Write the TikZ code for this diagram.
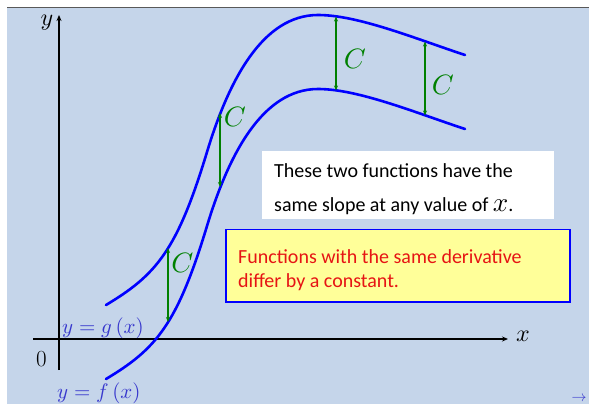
\documentclass[tikz,border=0pt]{standalone}
\usepackage{fontspec}
\newfontfamily\calibri{Carlito}
\DeclareFontShape{OML}{cmm}{m}{it}{<->cmmi10}{}
\DeclareFontShape{OMS}{cmsy}{m}{n}{<->cmsy10}{}
\DeclareFontShape{OT1}{cmr}{m}{n}{<->cmr10}{}
\usetikzlibrary{arrows.meta}
\definecolor{bgblue}{RGB}{197,213,234}
\definecolor{cgreen}{RGB}{0,128,0}
\definecolor{labblue}{RGB}{55,55,205}
\definecolor{boxyellow}{RGB}{255,255,153}
\definecolor{txtred}{RGB}{230,20,20}
\begin{document}
\begin{tikzpicture}[x=1pt,y=-1pt,
  curve/.style={blue, line width=2.6pt, line cap=round},
  axis/.style={black, line width=1.6pt, -{Stealth[length=6pt,width=5pt]}},
  cdiff/.style={cgreen, line width=1.5pt, {Stealth[length=5pt,width=4pt]}-{Stealth[length=5pt,width=4pt]}},
  clab/.style={cgreen, inner sep=0pt, font=\fontsize{28}{28}\selectfont},
  axlab/.style={inner sep=0pt, font=\fontsize{24}{24}\selectfont},
  fnlab/.style={labblue, inner sep=0pt, anchor=base west, font=\fontsize{21}{21}\selectfont},
  boxtext/.style={inner sep=0pt, anchor=base west, font=\calibri\fontsize{20}{24}\selectfont}]
\useasboundingbox (0,0) rectangle (589,408);
\fill[white] (0,0) rectangle (589,408);
\fill[bgblue] (7,7) rectangle (589,404);
\draw[gray!70!black, line width=0.8pt] (7,7) -- (589,7);

% axes
\coordinate (ybot) at (59,370);
\coordinate (ytop) at (59,15);
\coordinate (xleft) at (33,339);
\coordinate (xright) at (508,339);
\draw[axis] (ybot) -- (ytop);
\draw[axis] (xleft) -- (xright);
\node[axlab] (ylab) at (47,23) {$y$};
\node[axlab] (xlab) at (523,336) {$x$};
\node[axlab, font=\fontsize{23}{23}\selectfont] (zero) at (41.5,359.5) {0};

% curves: g (upper) and f (lower) = g shifted by C
\draw[curve] (106,305) .. controls (156,275) and (177,251) .. (207,152)
  .. controls (229,79.4) and (263,15) .. (318,15)
  .. controls (358,15) and (415,38.5) .. (465,55);
\draw[curve] (106,379) .. controls (156,349) and (177,325) .. (207,226)
  .. controls (229,153.4) and (263,89) .. (318,89)
  .. controls (358,89) and (415,112.5) .. (465,129);

% differences
\coordinate (g1) at (168,248); \coordinate (f1) at (168,322);
\coordinate (g2) at (220,113); \coordinate (f2) at (220,187);
\coordinate (g3) at (336,16.5);  \coordinate (f3) at (336,90.5);
\coordinate (g4) at (425,41.5);  \coordinate (f4) at (425,115.5);
\draw[cdiff] (g1) -- (f1);
\draw[cdiff] (g2) -- (f2);
\draw[cdiff] (g3) -- (f3);
\draw[cdiff] (g4) -- (f4);
\node[clab] (c1) at (182.5,262.5) {$C$};
\node[clab] (c2) at (235,117) {$C$};
\node[clab] (c3) at (355,59) {$C$};
\node[clab] (c4) at (443,85) {$C$};

% function labels
\node[fnlab] (glab) at (62,333) {$y=g\left(x\right)$};
\node[fnlab] (flab) at (57,398) {$y=f\left(x\right)$};

% white box
\node[fill=white, draw=none, minimum width=292pt, minimum height=68pt, inner sep=0pt] (wbox) at (408,185) {};
\node[boxtext] (w1) at (274,177) {These two functions have the};
\node[boxtext] (w2) at (274,211) {same slope at any value of {\fontsize{27}{27}\selectfont$x$}.};

% yellow box
\node[fill=boxyellow, draw=blue, line width=1.6pt, minimum width=344pt, minimum height=72.5pt, inner sep=0pt] (ybox) at (398,265.8) {};
\node[boxtext, txtred] (r1) at (238,263) {Functions with the same derivative};
\node[boxtext, txtred] (r2) at (238,287) {differ by a constant.};

% small arrow
\node[labblue, inner sep=0pt, font=\fontsize{15}{15}\selectfont] (navarrow) at (579,399) {$\rightarrow$};
\end{tikzpicture}
\end{document}
